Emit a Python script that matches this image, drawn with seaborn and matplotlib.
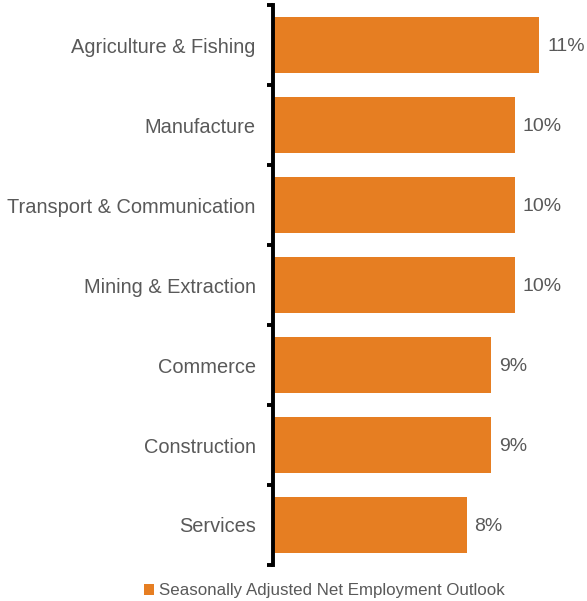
import matplotlib
matplotlib.use("Agg")
import matplotlib.pyplot as plt
import seaborn as sns
import pandas as pd
from matplotlib.patches import Patch

categories = ["Agriculture & Fishing", "Manufacture", "Transport & Communication",
              "Mining & Extraction", "Commerce", "Construction", "Services"]
values = [11, 10, 10, 10, 9, 9, 8]
labels = ["11%", "10%", "10%", "10%", "9%", "9%", "8%"]
series_name = "Seasonally Adjusted Net Employment Outlook"

sns.set_theme(style="white")
plt.rcParams['font.family'] = ['Liberation Sans', 'DejaVu Sans']

orange = "#E67E22"
grey = "#595959"

df = pd.DataFrame({"cat": categories, "val": values})

fig = plt.figure(figsize=(5.87, 6.01), dpi=100)
ax = fig.add_axes([273/587, 1 - 565/601, 300/587, 560/601])

sns.barplot(data=df, x="val", y="cat", color=orange, width=0.7, ax=ax,
            saturation=1, edgecolor="none")

ax.set_xlim(0, 12.4)
ax.set_ylim(6.5, -0.5)
ax.set_xlabel("")
ax.set_ylabel("")
ax.set_xticks([])
for s in ["top", "right", "bottom"]:
    ax.spines[s].set_visible(False)
ax.spines["left"].set_linewidth(2.8)
ax.spines["left"].set_color("black")

ax.set_yticks(range(len(categories)))
ax.set_yticklabels(categories, fontsize=14.4, color=grey)
ax.tick_params(axis="y", which="major", length=0, pad=12.5)
ax.set_yticks([i - 0.5 for i in range(len(categories) + 1)], minor=True)
ax.tick_params(axis="y", which="minor", left=True, length=4.5, width=2.8,
               color="black", direction="out")

for i, (v, lab) in enumerate(zip(values, labels)):
    ax.text(v + 0.33, i + 0.02, lab, va="center", ha="left", fontsize=14, color=grey)

handle = Patch(facecolor=orange, edgecolor="none")
fig.legend([handle], [series_name], loc="center", bbox_to_anchor=(324/587, 1 - 591/601),
           frameon=False, fontsize=12.2, handlelength=0.6, handleheight=0.6,
           handletextpad=0.3, labelcolor=grey)

fig.savefig("out.png", dpi=100)
